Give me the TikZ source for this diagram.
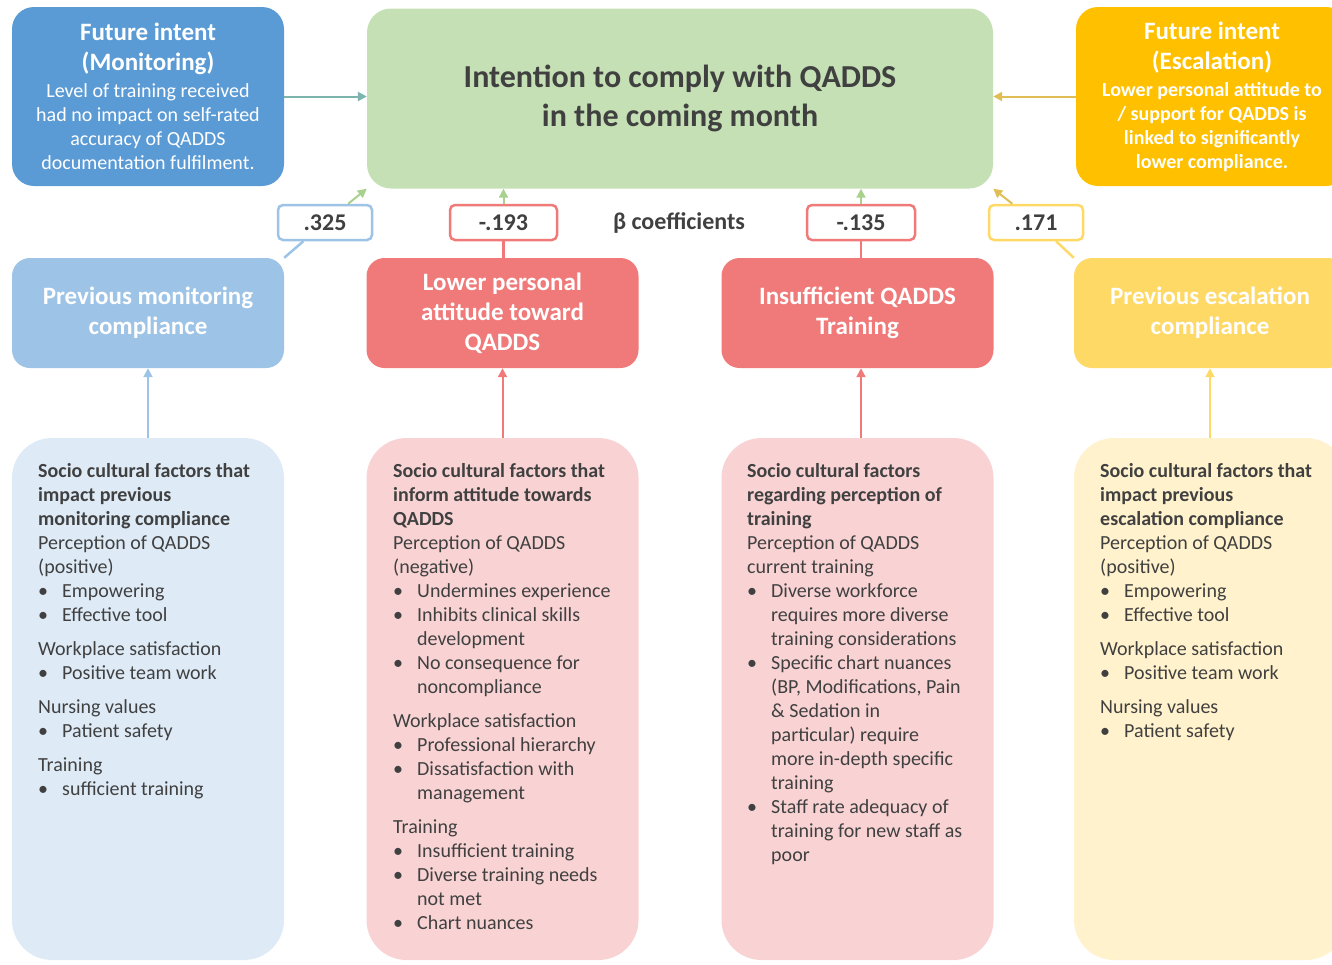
\documentclass[tikz,border=0pt]{standalone}
\usepackage{fontspec}
\setmainfont{Carlito}
\usetikzlibrary{arrows.meta, backgrounds}

\definecolor{monblue}{HTML}{5B9BD5}
\definecolor{monlight}{HTML}{9DC3E6}
\definecolor{monpale}{HTML}{DEEBF7}
\definecolor{intgreen}{HTML}{C5E0B4}
\definecolor{arrgreen}{HTML}{A9D18E}
\definecolor{escgold}{HTML}{FFC000}
\definecolor{esclight}{HTML}{FFD966}
\definecolor{escpale}{HTML}{FFF2CC}
\definecolor{attred}{HTML}{F07A7A}
\definecolor{attpale}{HTML}{F9D3D4}
\definecolor{darktext}{HTML}{404040}
\definecolor{tealarr}{HTML}{7DB5AE}
\definecolor{goldarr}{HTML}{E0BE55}

\tikzstyle{future} = [rectangle, rounded corners=22pt, minimum width=272pt, minimum height=179pt, align=center, text=white, inner sep=0pt]
\tikzstyle{intent} = [rectangle, rounded corners=24pt, minimum width=626pt, minimum height=180pt, align=center, text=darktext, fill=intgreen, font=\bfseries\fontsize{32}{39}\selectfont]
\tikzstyle{factor} = [rectangle, rounded corners=18pt, minimum width=272pt, minimum height=110pt, align=center, text=white, font=\bfseries\fontsize{25}{30}\selectfont]
\tikzstyle{coef} = [rectangle, rounded corners=5pt, line width=2.5pt, fill=white, minimum height=35pt, inner sep=0pt, text=darktext, font=\bfseries\fontsize{24}{28}\selectfont]
\tikzstyle{socio} = [rectangle, rounded corners=40pt, minimum width=272pt, minimum height=522pt]
\tikzstyle{sociotext} = [anchor=north west, align=left, inner sep=0pt, text=darktext, font=\fontsize{20}{24}\selectfont]
\tikzstyle{arrow} = [line width=2pt, -{Triangle[length=9pt, width=9pt]}]
\tikzstyle{link} = [line width=2.5pt]

\newcommand{\itembul}{\makebox[24pt][l]{\textbullet}}
\newcommand{\itemgap}{\hspace*{24pt}}
\newcommand{\futhead}[1]{{\fontsize{25}{30}\selectfont\bfseries #1}}

\begin{document}
\begin{tikzpicture}[x=1pt, y=-1pt]
\useasboundingbox (0,0) rectangle (1332,964);

% objects
\node (futmon) at (148,96.5) [future, fill=monblue, font=\fontsize{20}{24}\selectfont] {\futhead{Future intent}\\[6pt]\futhead{(Monitoring)}\\[3pt]Level of training received\\had no impact on self-rated\\accuracy of QADDS\\documentation fulfilment.};
\node (intention) at (680,98.5) [intent] {Intention to comply with QADDS\\in the coming month};
\node (futesc) at (1212,96.5) [future, fill=escgold, font=\bfseries\fontsize{20}{24}\selectfont] {\futhead{Future intent}\\[6pt]\futhead{(Escalation)}\\[3pt]Lower personal attitude to\\/ support for QADDS is\\linked to significantly\\lower compliance.};

\node (c325) at (325,222.5) [coef, draw=monlight, minimum width=94pt] {.325};
\node (c193) at (503.5,222.5) [coef, draw=attred, minimum width=107pt] {-.193};
\node (betalabel) at (679,223) [text=darktext, font=\bfseries\fontsize{24}{28}\selectfont] {β coefficients};
\node (c135) at (861,222.5) [coef, draw=attred, minimum width=108pt] {-.135};
\node (c171) at (1036,222.5) [coef, draw=esclight, minimum width=94pt] {.171};

\node (prevmon) at (148,313) [factor, fill=monlight] {Previous monitoring\\compliance};
\node (lowatt) at (502.5,313) [factor, fill=attred] {Lower personal\\attitude toward\\QADDS};
\node (instrain) at (857.5,313) [factor, fill=attred] {Insufficient QADDS\\Training};
\node (prevesc) at (1210,313) [factor, fill=esclight] {Previous escalation\\compliance};

\node (socmon) at (148,699) [socio, fill=monpale] {};
\node (socatt) at (502.5,699) [socio, fill=attpale] {};
\node (soctrain) at (857.5,699) [socio, fill=attpale] {};
\node (socesc) at (1210,699) [socio, fill=escpale] {};

\node (socmontext) at (38,463) [sociotext] {\textbf{Socio cultural factors that}\\\textbf{impact previous}\\\textbf{monitoring compliance}\\Perception of QADDS\\(positive)\\\itembul Empowering\\\itembul Effective tool\\[10pt]Workplace satisfaction\\\itembul Positive team work\\[10pt]Nursing values\\\itembul Patient safety\\[10pt]Training\\\itembul sufficient training};
\node (socatttext) at (393,463) [sociotext] {\textbf{Socio cultural factors that}\\\textbf{inform attitude towards}\\\textbf{QADDS}\\Perception of QADDS\\(negative)\\\itembul Undermines experience\\\itembul Inhibits clinical skills\\\itemgap development\\\itembul No consequence for\\\itemgap noncompliance\\[10pt]Workplace satisfaction\\\itembul Professional hierarchy\\\itembul Dissatisfaction with\\\itemgap management\\[10pt]Training\\\itembul Insufficient training\\\itembul Diverse training needs\\\itemgap not met\\\itembul Chart nuances};
\node (soctraintext) at (747,463) [sociotext] {\textbf{Socio cultural factors}\\\textbf{regarding perception of}\\\textbf{training}\\Perception of QADDS\\current training\\\itembul Diverse workforce\\\itemgap requires more diverse\\\itemgap training considerations\\\itembul Specific chart nuances\\\itemgap (BP, Modifications, Pain\\\itemgap \& Sedation in\\\itemgap particular) require\\\itemgap more in-depth specific\\\itemgap training\\\itembul Staff rate adequacy of\\\itemgap training for new staff as\\\itemgap poor};
\node (socesctext) at (1100,463) [sociotext] {\textbf{Socio cultural factors that}\\\textbf{impact previous}\\\textbf{escalation compliance}\\Perception of QADDS\\(positive)\\\itembul Empowering\\\itembul Effective tool\\[10pt]Workplace satisfaction\\\itembul Positive team work\\[10pt]Nursing values\\\itembul Patient safety};

% arrows
\begin{scope}[on background layer]
\draw [link, monlight] (prevmon.north east) -- (c325);
\draw [link, attred] (lowatt.north -| c193) -- (c193);
\draw [link, attred] (instrain.north -| c135) -- (c135);
\draw [link, esclight] (prevesc.north west) -- (c171);
\end{scope}

\draw [arrow, tealarr] (futmon.east) -- (intention.west |- futmon.east);
\draw [arrow, goldarr] (futesc.west) -- (intention.east |- futesc.west);

\draw [arrow, arrgreen] (c325) -- (intention.south west);
\draw [arrow, arrgreen] (c193.north) -- (intention.south -| c193);
\draw [arrow, arrgreen] (c135.north) -- (intention.south -| c135);
\draw [arrow, goldarr] (c171) -- (intention.south east);

\draw [arrow, monlight] (socmon.north) -- (prevmon.south);
\draw [arrow, attred] (socatt.north) -- (lowatt.south);
\draw [arrow, attred] (soctrain.north -| c135) -- (instrain.south -| c135);
\draw [arrow, esclight] (socesc.north) -- (prevesc.south);

\end{tikzpicture}
\end{document}
